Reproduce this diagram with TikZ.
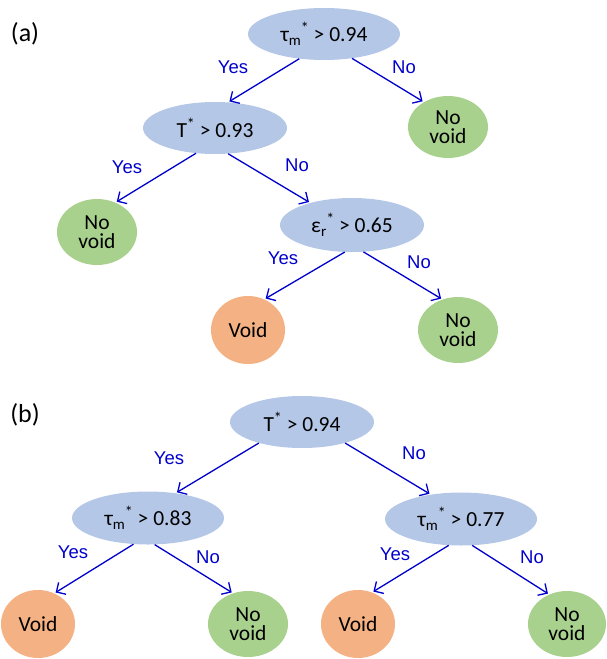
\documentclass[tikz,border=0pt]{standalone}
\usepackage{fontspec}
\setmainfont{Carlito}
\newfontfamily\labfont{Liberation Sans}
\usetikzlibrary{shapes.geometric,arrows.meta}
\definecolor{condc}{HTML}{B4C7E7}
\definecolor{novc}{HTML}{A9D18E}
\definecolor{vdc}{HTML}{F4B183}
\definecolor{arrc}{RGB}{0,0,204}
\newcommand{\subm}{\raisebox{-0.4ex}{\fontsize{15}{15}\selectfont m}}
\newcommand{\subr}{\raisebox{-0.4ex}{\fontsize{15}{15}\selectfont r}}
\newcommand{\supst}{\raisebox{0.8ex}{\fontsize{16}{16}\selectfont *}}
\begin{document}
\begin{tikzpicture}[x=1pt,y=-1pt,
  every node/.style={font=\fontsize{21.5}{19.5}\selectfont},
  condbox/.style={ellipse, fill=condc, inner sep=0pt, minimum height=52pt},
  leafbox/.style={ellipse, fill=novc, inner sep=0pt, minimum width=80pt, minimum height=66pt, align=center},
  voidbox/.style={ellipse, fill=vdc, inner sep=0pt, minimum width=74pt, minimum height=68pt},
  conn/.style={draw=arrc, line width=1.3pt, -{Straight Barb[length=7pt,width=14pt]}, shorten >=1.5pt},
  lab/.style={font=\labfont\fontsize{18.5}{18.5}\selectfont, text=arrc, inner sep=0pt},
  panel/.style={font=\fontsize{26}{26}\selectfont, inner sep=0pt}]
\useasboundingbox (0,0) rectangle (606,659);

% panel (a)
\node[panel] (la) at (25,34) {(a)};
\node[condbox, minimum width=152pt] (a0) at (324,34) {τ\subm\supst{} > 0.94};
\node[condbox, minimum width=144pt] (a1) at (215,128) {T\supst{} > 0.93};
\node[leafbox, minimum height=62pt] (a2) at (448,127) {No\\void};
\node[leafbox] (a3) at (97,232) {No\\void};
\node[condbox, minimum width=144pt, minimum height=54pt] (a4) at (352,225) {ε\subr\supst{} > 0.65};
\node[voidbox] (a5) at (248,330) {Void};
\node[leafbox] (a6) at (458,330) {No\\void};

\draw[conn] (a0.225) -- (a1.63);
\draw[conn] (a0.319) -- (a2.134);
\draw[conn] (a1.233) -- (a3.58);
\draw[conn] (a1.297) -- (a4.152);
\draw[conn] (a4.255) -- (a5.62);
\draw[conn] (a4.293) -- (a6.117);

\node[lab] (ya0) at (233,67) {Yes};
\node[lab] (na0) at (404,67) {No};
\node[lab] (ya1) at (127,167) {Yes};
\node[lab] (na1) at (297,165) {No};
\node[lab] (ya4) at (283,258) {Yes};
\node[lab] (na4) at (419,262) {No};

% panel (b)
\node[panel] (lb) at (25,415) {(b)};
\node[condbox, minimum width=144pt] (b0) at (302,422) {T\supst{} > 0.94};
\node[condbox, minimum width=152pt, minimum height=53pt] (b1) at (148,518) {τ\subm\supst{} > 0.83};
\node[condbox, minimum width=152pt, minimum height=53pt] (b2) at (461,519) {τ\subm\supst{} > 0.77};
\node[voidbox] (b3) at (38,624) {Void};
\node[leafbox] (b4) at (248,624) {No\\void};
\node[voidbox] (b5) at (358,624) {Void};
\node[leafbox, minimum width=78pt] (b6) at (567,624) {No\\void};

\draw[conn] (b0.206) -- (b1.42);
\draw[conn] (b0.334) -- (b2.141);
\draw[conn] (b1.241) -- (b3.62);
\draw[conn] (b1.284) -- (b4.116);
\draw[conn] (b2.245) -- (b5.66);
\draw[conn] (b2.293) -- (b6.121);

\node[lab] (yb0) at (169,458) {Yes};
\node[lab] (nb0) at (414,453) {No};
\node[lab] (yb1) at (73,552) {Yes};
\node[lab] (nb1) at (208,557) {No};
\node[lab] (yb2) at (395,554) {Yes};
\node[lab] (nb2) at (532,557) {No};
\end{tikzpicture}
\end{document}
